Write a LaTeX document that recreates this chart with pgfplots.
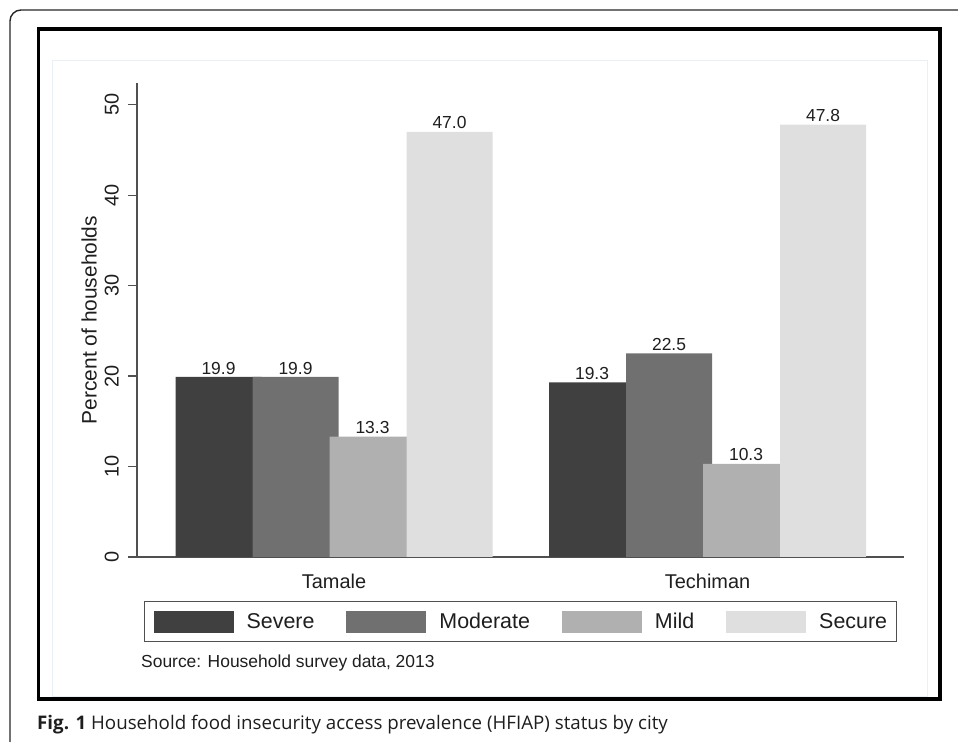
\documentclass[border=0pt]{standalone}
\usepackage{fontspec}
\setmainfont{Liberation Sans}
\newfontfamily\capfont{Open Sans}
\usepackage{pgfplots}
\pgfplotsset{compat=1.18}
\definecolor{cSevere}{RGB}{64,64,64}
\definecolor{cModerate}{RGB}{112,112,112}
\definecolor{cMild}{RGB}{176,176,176}
\definecolor{cSecure}{RGB}{223,223,223}
\definecolor{cAxis}{RGB}{80,80,80}
\definecolor{cText}{RGB}{30,30,30}
\definecolor{cRegion}{RGB}{234,241,244}

\begin{document}
\begin{tikzpicture}[x=1bp,y=1bp]
\useasboundingbox (0,0) rectangle (958,742);
\clip (0,0) rectangle (958,742);
% frames
\draw[line width=1.4bp, rounded corners=11bp, black!85] (10,-20) -- (10,732) -- (990,732);
\draw[cRegion, line width=1bp] (52,45) rectangle (927,681);
\draw[line width=3.5bp] (38.5,43) rectangle (940,713);

\begin{axis}[
  at={(137bp,185bp)}, anchor=south west, scale only axis,
  width=767bp, height=474bp,
  xmin=-0.5274, xmax=1.526, ymin=0, ymax=52.4,
  axis x line*=bottom, axis y line*=left,
  axis line style={cAxis, line width=1.5bp},
  xtick={0,1}, xticklabels={Tamale,Techiman},
  xtick style={draw=none},
  ytick={0,10,...,50},
  ytick style={cAxis, line width=1.3bp},
  tick align=outside, major tick length=9bp,
  /pgf/number format/assume math mode=true,
  tick label style={font=\fontsize{20}{24}\selectfont, text=cText},
  yticklabel style={rotate=90, anchor=south, inner xsep=0pt, inner ysep=9bp},
  xticklabel style={anchor=base, inner sep=0pt, yshift=-23bp},
  ylabel={Percent of households},
  ylabel style={font=\fontsize{21}{24}\selectfont, text=cText,
    at={(axis description cs:-0.0522,0.5)}, anchor=south, inner sep=0pt},
  ybar, bar width=86bp,
  every axis plot/.append style={draw=none},
  nodes near coords,
  nodes near coords style={font=\fontsize{17.5}{20}\selectfont, text=cText,
    anchor=south, inner sep=0pt, yshift=2.5bp,
    /pgf/number format/.cd, fixed, fixed zerofill, precision=1},
  legend columns=4,
  legend image code/.code={\fill[#1] (0bp,-11bp) rectangle (80bp,11bp);},
  legend style={at={(axis description cs:0.00913,-0.0928)}, anchor=north west,
    draw=cAxis, line width=1.2bp, inner xsep=9bp, inner ysep=9bp,
    font=\fontsize{21.5}{24}\selectfont, text=cText,
    /tikz/every even column/.append style={column sep=32bp},
    /tikz/every odd column/.append style={column sep=13bp},
    nodes={inner sep=0pt}},
]
\addplot[fill=cSevere, bar shift=-115.5bp] coordinates {(0,19.9) (1,19.3)};
\addplot[fill=cModerate, bar shift=-38.5bp] coordinates {(0,19.9) (1,22.5)};
\addplot[fill=cMild, bar shift=38.5bp] coordinates {(0,13.3) (1,10.3)};
\addplot[fill=cSecure, bar shift=115.5bp] coordinates {(0,47.0) (1,47.8)};
\legend{Severe,Moderate,Mild,Secure}
\end{axis}

\node[anchor=base west, inner sep=0pt, font=\fontsize{17.5}{20}\selectfont, text=cText]
  at (141,74) {Source: Household survey data, 2013};
\node[anchor=base west, inner sep=0pt, font=\capfont\fontsize{18.8}{22}\selectfont, text=cText]
  at (37,12) {\textbf{Fig. 1} Household food insecurity access prevalence (HFIAP) status by city};
\end{tikzpicture}
\end{document}
